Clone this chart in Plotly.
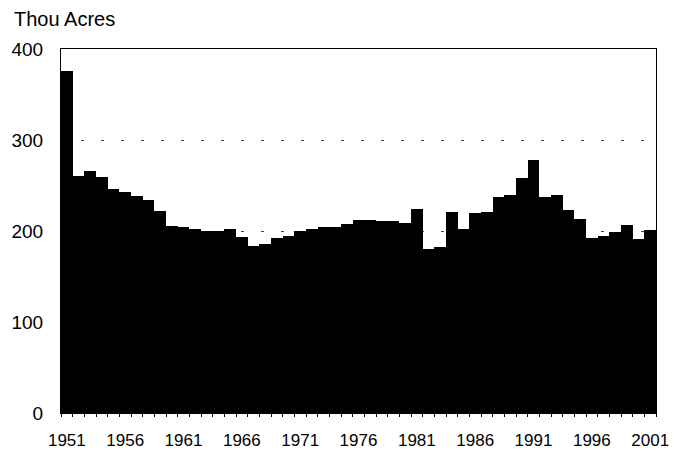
import plotly.graph_objects as go

years = list(range(1951, 2002))
acres = [376, 260, 266, 259, 246, 243, 239, 234, 222, 206,
         204, 202, 200, 200, 202, 193, 183, 186, 192, 195,
         200, 202, 204, 204, 208, 212, 212, 211, 211, 209,
         224, 180, 182, 221, 202, 220, 221, 237, 240, 258,
         278, 237, 240, 223, 213, 192, 194, 199, 207, 191, 201]
label_years = [1951, 1956, 1961, 1966, 1971, 1976, 1981, 1986, 1991, 1996, 2001]
y_ticks = [0, 100, 200, 300, 400]

xcat = [str(y) for y in years]
ticktext = [str(y) if y in label_years else "" for y in years]

fig = go.Figure()
fig.add_trace(go.Bar(x=xcat, y=acres, marker=dict(color="black", line=dict(width=0))))

fig.update_layout(
    width=676, height=445,
    margin=dict(l=53, r=28, t=41, b=40),
    paper_bgcolor="white", plot_bgcolor="white",
    bargap=0,
    showlegend=False,
    font=dict(family="Liberation Sans, Arial, sans-serif", color="black"),
    title=dict(text="Thou Acres", xref="container", yref="container",
               x=6/676, y=1 - 4/445, xanchor="left", yanchor="top",
               pad=dict(t=0, b=0, l=0, r=0),
               font=dict(size=20, color="black")),
)
fig.update_xaxes(
    type="category", range=[-0.5, len(years) - 0.5],
    tickmode="array", tickvals=xcat, ticktext=ticktext,
    tickson="boundaries", ticks="outside", ticklen=3, tickcolor="black", tickwidth=1,
    ticklabelstandoff=12,
    showline=True, linecolor="black", linewidth=1, mirror=True,
    showgrid=False, tickangle=0,
    tickfont=dict(size=17, color="black"),
    automargin=False,
)
fig.update_yaxes(
    range=[0, 400], tickvals=y_ticks,
    showline=True, linecolor="black", linewidth=1, mirror=True,
    showgrid=True, gridcolor="#444444", gridwidth=1, griddash="3px,17px",
    ticks="", ticklabelstandoff=13,
    tickfont=dict(size=19, color="black"),
    zeroline=False, automargin=False,
)

fig.write_html("out.html")
